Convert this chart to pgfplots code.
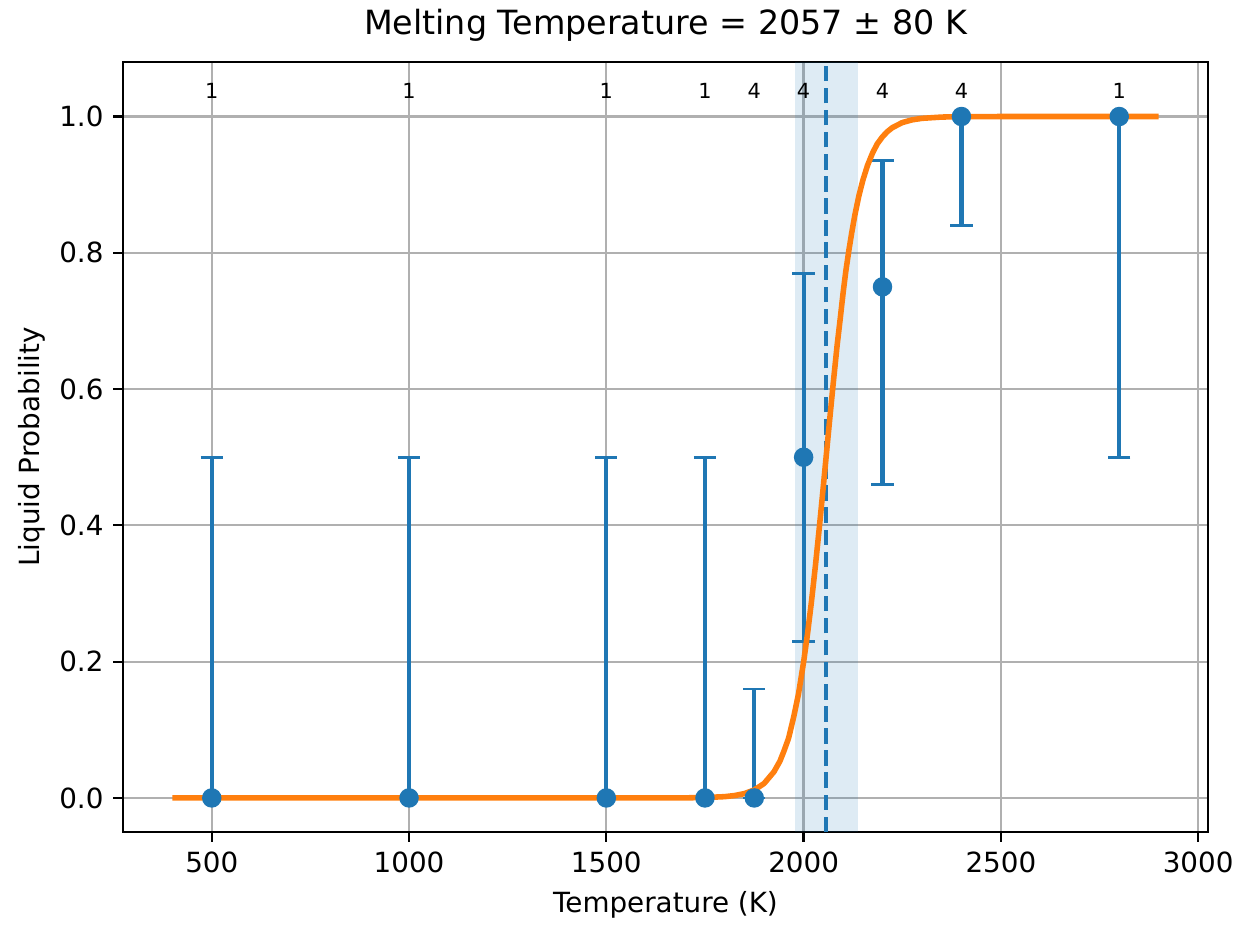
\documentclass[border=0pt]{standalone}
\usepackage{pgfplots}
\pgfplotsset{compat=1.18}
\usepackage{fontspec}
\setmainfont{DejaVu Sans}
\definecolor{C0}{HTML}{1F77B4}
\definecolor{C1}{HTML}{FF7F0E}
\definecolor{gridgray}{HTML}{B0B0B0}
\begin{document}
\begin{tikzpicture}
\begin{axis}[
  scale only axis,
  width=390.6pt, height=277.2pt,
  xmin=275, xmax=3025, ymin=-0.05, ymax=1.08,
  xtick={500,1000,1500,2000,2500,3000},
  ytick={0,0.2,0.4,0.6,0.8,1.0},
  /pgf/number format/assume math mode=true,
  xticklabel style={/pgf/number format/1000 sep={}},
  yticklabel style={/pgf/number format/.cd, fixed, fixed zerofill, precision=1},
  ticklabel style={font=\fontsize{10}{12}\selectfont},
  grid=major,
  major grid style={color=gridgray, line width=0.8pt},
  tick align=outside, tick pos=left,
  major tick length=3.5pt,
  every tick/.style={black, line width=0.8pt},
  axis line style={line width=0.8pt},
  title={Melting Temperature = 2057 ± 80 K},
  title style={font=\fontsize{12}{14}\selectfont, yshift=-2.2pt},
  xlabel={Temperature (K)},
  ylabel={Liquid Probability},
  ylabel shift=-2pt,
  label style={font=\fontsize{10}{12}\selectfont},
  clip=true,
]
% uncertainty band
\addplot[draw=none, fill=C0, fill opacity=0.15, forget plot]
  coordinates {(1977,-0.05) (2137,-0.05) (2137,1.08) (1977,1.08)} -- cycle;
% melting temperature line
\addplot[C0, line width=1.5pt, dash pattern=on 5.55pt off 2.4pt, forget plot]
  coordinates {(2057,-0.05) (2057,1.08)};
% error bars
\addplot[C0, only marks, mark=none,
  error bars/.cd, y dir=both, y explicit,
  error bar style={line width=1.5pt, C0, solid},
  error mark options={line width=1pt, C0, mark size=4pt, rotate=90}]
  coordinates {
  (500,0) += (0,0.5) -= (0,0)
  (1000,0) += (0,0.5) -= (0,0)
  (1500,0) += (0,0.5) -= (0,0)
  (1750,0) += (0,0.5) -= (0,0)
  (1875,0) += (0,0.16) -= (0,0)
  (2000,0.5) += (0,0.27) -= (0,0.27)
  (2200,0.75) += (0,0.185) -= (0,0.29)
  (2400,1.0) += (0,0) -= (0,0.16)
  (2800,1.0) += (0,0) -= (0,0.5)
  };
% fitted curve
\addplot[C1, line width=2pt, line join=round] coordinates {
  (400,0) (1600,0.00001) (1700,0.00017) (1750,0.00056) (1800,0.0019)
  (1825,0.0035) (1850,0.0064) (1875,0.0117) (1900,0.0213)
  (1925,0.0385) (1940,0.0540) (1950,0.0685) (1962,0.0878) (1975,0.1192)
  (1987,0.1525) (2000,0.1994) (2010,0.2411)
  (2020,0.2885) (2030,0.3411) (2040,0.3978) (2050,0.4574) (2057,0.5)
  (2065,0.5486) (2075,0.6080) (2085,0.6644) (2092,0.6992) (2100,0.7405)
  (2107,0.7731) (2115,0.8045) (2122,0.8296)
  (2130,0.8557) (2140,0.8833) (2150,0.9062) (2162,0.9283) (2175,0.9468)
  (2187,0.9602) (2200,0.9703) (2212,0.9777) (2225,0.9837) (2250,0.9911)
  (2275,0.9951) (2300,0.9973) (2350,0.9992) (2400,0.9998) (2500,1.0)
  (2900,1.0)
  };
% markers
\addplot[only marks, mark=*, mark size=3pt,
  mark options={fill=C0, draw=C0, line width=1pt}] coordinates {
  (500,0) (1000,0) (1500,0) (1750,0) (1875,0)
  (2000,0.5) (2200,0.75) (2400,1.0) (2800,1.0)
  };
% sample counts
\addplot[only marks, mark=none, nodes near coords,
  point meta=explicit symbolic,
  every node near coord/.style={anchor=base, black, inner sep=0pt,
    font=\fontsize{7.5}{9}\selectfont}] coordinates {
  (500,1.026)[1] (1000,1.026)[1] (1500,1.026)[1] (1750,1.026)[1]
  (1875,1.026)[4] (2000,1.026)[4] (2200,1.026)[4] (2400,1.026)[4]
  (2800,1.026)[1]
  };
\end{axis}
\path ([shift={(-44.28pt,-38.52pt)}]current axis.south west) rectangle ++(451.08pt,338.04pt);
\end{tikzpicture}
\end{document}
